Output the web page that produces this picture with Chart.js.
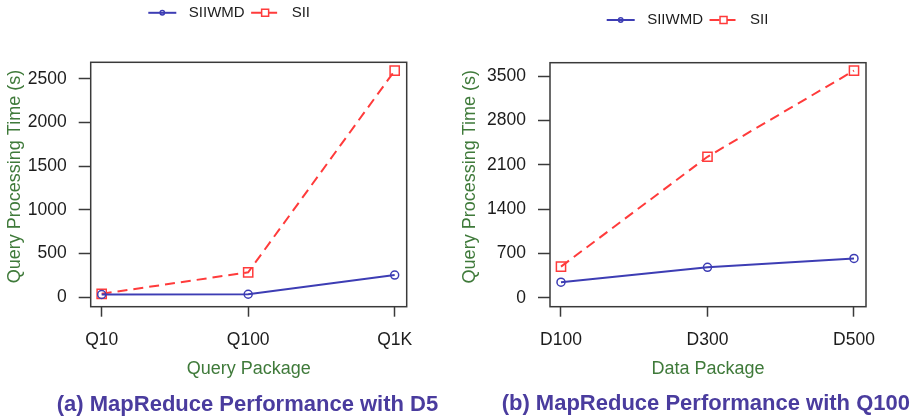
<!DOCTYPE html>
<html>
<head>
<meta charset="utf-8">
<script src="https://cdn.jsdelivr.net/npm/chart.js@4/dist/chart.umd.min.js"></script>
<style>
  html, body { margin: 0; padding: 0; background: #fff; }
  #wrap { position: relative; width: 919px; height: 419px; overflow: hidden; background: #fff; }
  canvas { position: absolute; top: 0; }
  #ca { left: 0; }
  #cb { left: 460px; }
</style>
</head>
<body>
<div id="wrap">
  <canvas id="ca" width="460" height="419"></canvas>
  <canvas id="cb" width="459" height="419"></canvas>
</div>
<script>
// ---- data ----
const seriesNames = ['SIIWMD', 'SII'];

const queryPackages = ['Q10', 'Q100', 'Q1K'];
const siiwmdByQuery = [32, 35, 255];
const siiByQuery = [40, 286, 2595];
const queryTimeTicks = [0, 500, 1000, 1500, 2000, 2500];

const dataPackages = ['D100', 'D300', 'D500'];
const siiwmdByData = [245, 480, 620];
const siiByData = [490, 2225, 3585];
const dataTimeTicks = [0, 700, 1400, 2100, 2800, 3500];

// ---- styles ----
const FONT = "'Liberation Sans', Arial, sans-serif";
const INK = '#1c1c1c';
const AXIS = '#3a3a3a';
const BLUE = '#3d3db4';
const RED = '#ff3b3b';
const GREEN = '#3f7a3a';
const PURPLE = '#4a3c9e';

// plot frame around the chart area
const frame = {
  id: 'frame',
  beforeDatasetsDraw(chart) {
    const { ctx, chartArea: a } = chart;
    ctx.save();
    ctx.strokeStyle = AXIS;
    ctx.lineWidth = 1.5;
    ctx.strokeRect(a.left, a.top, a.right - a.left, a.bottom - a.top);
    ctx.restore();
  }
};

// rotated y-axis caption
const sideTitle = {
  id: 'sideTitle',
  afterDraw(chart, args, o) {
    if (!o.text) return;
    const { ctx, chartArea: a } = chart;
    ctx.save();
    ctx.translate(o.x, (a.top + a.bottom) / 2 + o.shift);
    ctx.rotate(-Math.PI / 2);
    ctx.font = `${o.size}px ${FONT}`;
    ctx.fillStyle = o.color;
    ctx.textAlign = 'center';
    ctx.textBaseline = 'middle';
    ctx.fillText(o.text, 0, 0);
    ctx.restore();
  }
};

// panel caption under the x axis
const caption = {
  id: 'caption',
  afterDraw(chart, args, o) {
    if (!o.text) return;
    const { ctx, chartArea: a } = chart;
    ctx.save();
    ctx.font = `bold ${o.size}px ${FONT}`;
    ctx.fillStyle = o.color;
    ctx.textAlign = 'center';
    ctx.textBaseline = 'middle';
    ctx.fillText(o.text, (a.left + a.right) / 2 + o.dx, o.y);
    ctx.restore();
  }
};

// legend keys: line sample with marker, then series name
const lineKey = {
  id: 'lineKey',
  afterDraw(chart, args, o) {
    const { ctx } = chart;
    let x = o.x;
    ctx.save();
    ctx.font = `${o.size}px ${FONT}`;
    ctx.textBaseline = 'middle';
    ctx.textAlign = 'left';
    chart.data.datasets.forEach(ds => {
      ctx.strokeStyle = ds.borderColor;
      ctx.lineWidth = ds.borderWidth;
      ctx.setLineDash(ds.borderDash || []);
      ctx.beginPath();
      ctx.moveTo(x, o.y);
      ctx.lineTo(x + o.sample, o.y);
      ctx.stroke();
      ctx.setLineDash([]);
      const cx = x + o.sample / 2;
      ctx.lineWidth = 1.5;
      ctx.beginPath();
      if (ds.pointStyle === 'rect') {
        ctx.fillStyle = '#fff';
        ctx.rect(cx - 3.5, o.y - 3.5, 7, 7);
        ctx.fill();
      } else {
        ctx.arc(cx, o.y, 2.2, 0, Math.PI * 2);
      }
      ctx.stroke();
      ctx.fillStyle = INK;
      const tx = x + o.sample + o.gapText;
      ctx.fillText(ds.label, tx, o.y);
      x = tx + ctx.measureText(ds.label).width + o.gapItem;
    });
    ctx.restore();
  }
};

function makePanel(canvas, p) {
  const toPoints = vals => vals.map((v, i) => ({ x: i, y: v }));
  const captionSpace = 27.7;
  return new Chart(canvas, {
    type: 'line',
    data: {
      datasets: [
        {
          label: seriesNames[0],
          data: toPoints(p.first),
          borderColor: BLUE,
          borderWidth: 2,
          pointStyle: 'circle',
          pointRadius: 4,
          pointBorderWidth: 1.5,
          pointBorderColor: BLUE,
          pointBackgroundColor: 'rgba(0,0,0,0)',
          tension: 0
        },
        {
          label: seriesNames[1],
          data: toPoints(p.second),
          borderColor: RED,
          borderWidth: 2,
          borderDash: [10, 6],
          pointStyle: 'rect',
          pointRadius: 6.5,
          pointBorderWidth: 1.5,
          pointBorderColor: RED,
          pointBackgroundColor: 'rgba(0,0,0,0)',
          tension: 0
        }
      ]
    },
    options: {
      responsive: false,
      animation: false,
      events: [],
      layout: { padding: { top: p.top, right: p.right, bottom: captionSpace, left: 0 } },
      scales: {
        x: {
          type: 'linear',
          min: -0.075,
          max: 2.082,
          afterBuildTicks: s => { s.ticks = p.cats.map((c, i) => ({ value: i })); },
          afterFit: s => { s.height = 419 - captionSpace - p.bottom; },
          ticks: {
            callback: v => p.cats[v],
            color: INK,
            font: { size: 17.5, family: FONT },
            padding: 13.3,
            maxRotation: 0,
            autoSkip: false
          },
          grid: { drawOnChartArea: false, drawTicks: true, tickLength: 10, tickColor: AXIS, tickWidth: 1.5 },
          border: { display: false },
          title: {
            display: true,
            text: p.xTitle,
            color: GREEN,
            font: { size: 18, family: FONT },
            padding: { top: 0, bottom: 11.5 }
          }
        },
        y: {
          type: 'linear',
          min: p.yMin,
          max: p.yMax,
          afterBuildTicks: s => { s.ticks = p.yTicks.map(v => ({ value: v })); },
          afterFit: s => { s.width = p.left; },
          ticks: {
            callback: v => String(v),
            color: INK,
            font: { size: 17.5, family: FONT },
            padding: 12
          },
          grid: { drawOnChartArea: false, drawTicks: true, tickLength: 12, tickColor: AXIS, tickWidth: 1.5 },
          border: { display: false }
        }
      },
      plugins: {
        legend: { display: false },
        tooltip: { enabled: false },
        title: { display: false },
        caption: { text: p.title, size: 22, color: PURPLE, y: p.titleY, dx: p.titleDx },
        sideTitle: { text: 'Query Processing Time (s)', x: p.yTitleX, shift: -8, size: 18, color: GREEN },
        lineKey: { x: p.keyX, y: p.keyY, size: 15, sample: 28, gapText: 12.5, gapItem: 6.5 }
      }
    },
    plugins: [frame, sideTitle, caption, lineKey]
  });
}

makePanel(document.getElementById('ca'), {
  cats: queryPackages,
  first: siiwmdByQuery,
  second: siiByQuery,
  yTicks: queryTimeTicks,
  yMin: -107.6,
  yMax: 2691,
  xTitle: 'Query Package',
  title: '(a) MapReduce Performance with D5',
  top: 62.3,
  right: 53.3,
  left: 90.7,
  bottom: 306.7,
  titleY: 405,
  titleDx: -1.2,
  yTitleX: 15,
  keyX: 148.3,
  keyY: 12.8
});

makePanel(document.getElementById('cb'), {
  cats: dataPackages,
  first: siiwmdByData,
  second: siiByData,
  yTicks: dataTimeTicks,
  yMin: -142,
  yMax: 3710,
  xTitle: 'Data Package',
  title: '(b) MapReduce Performance with Q100',
  top: 62.7,
  right: 53,
  left: 90,
  bottom: 306.7,
  titleY: 403.5,
  titleDx: -2.2,
  yTitleX: 10,
  keyX: 146.7,
  keyY: 20
});
</script>
</body>
</html>
